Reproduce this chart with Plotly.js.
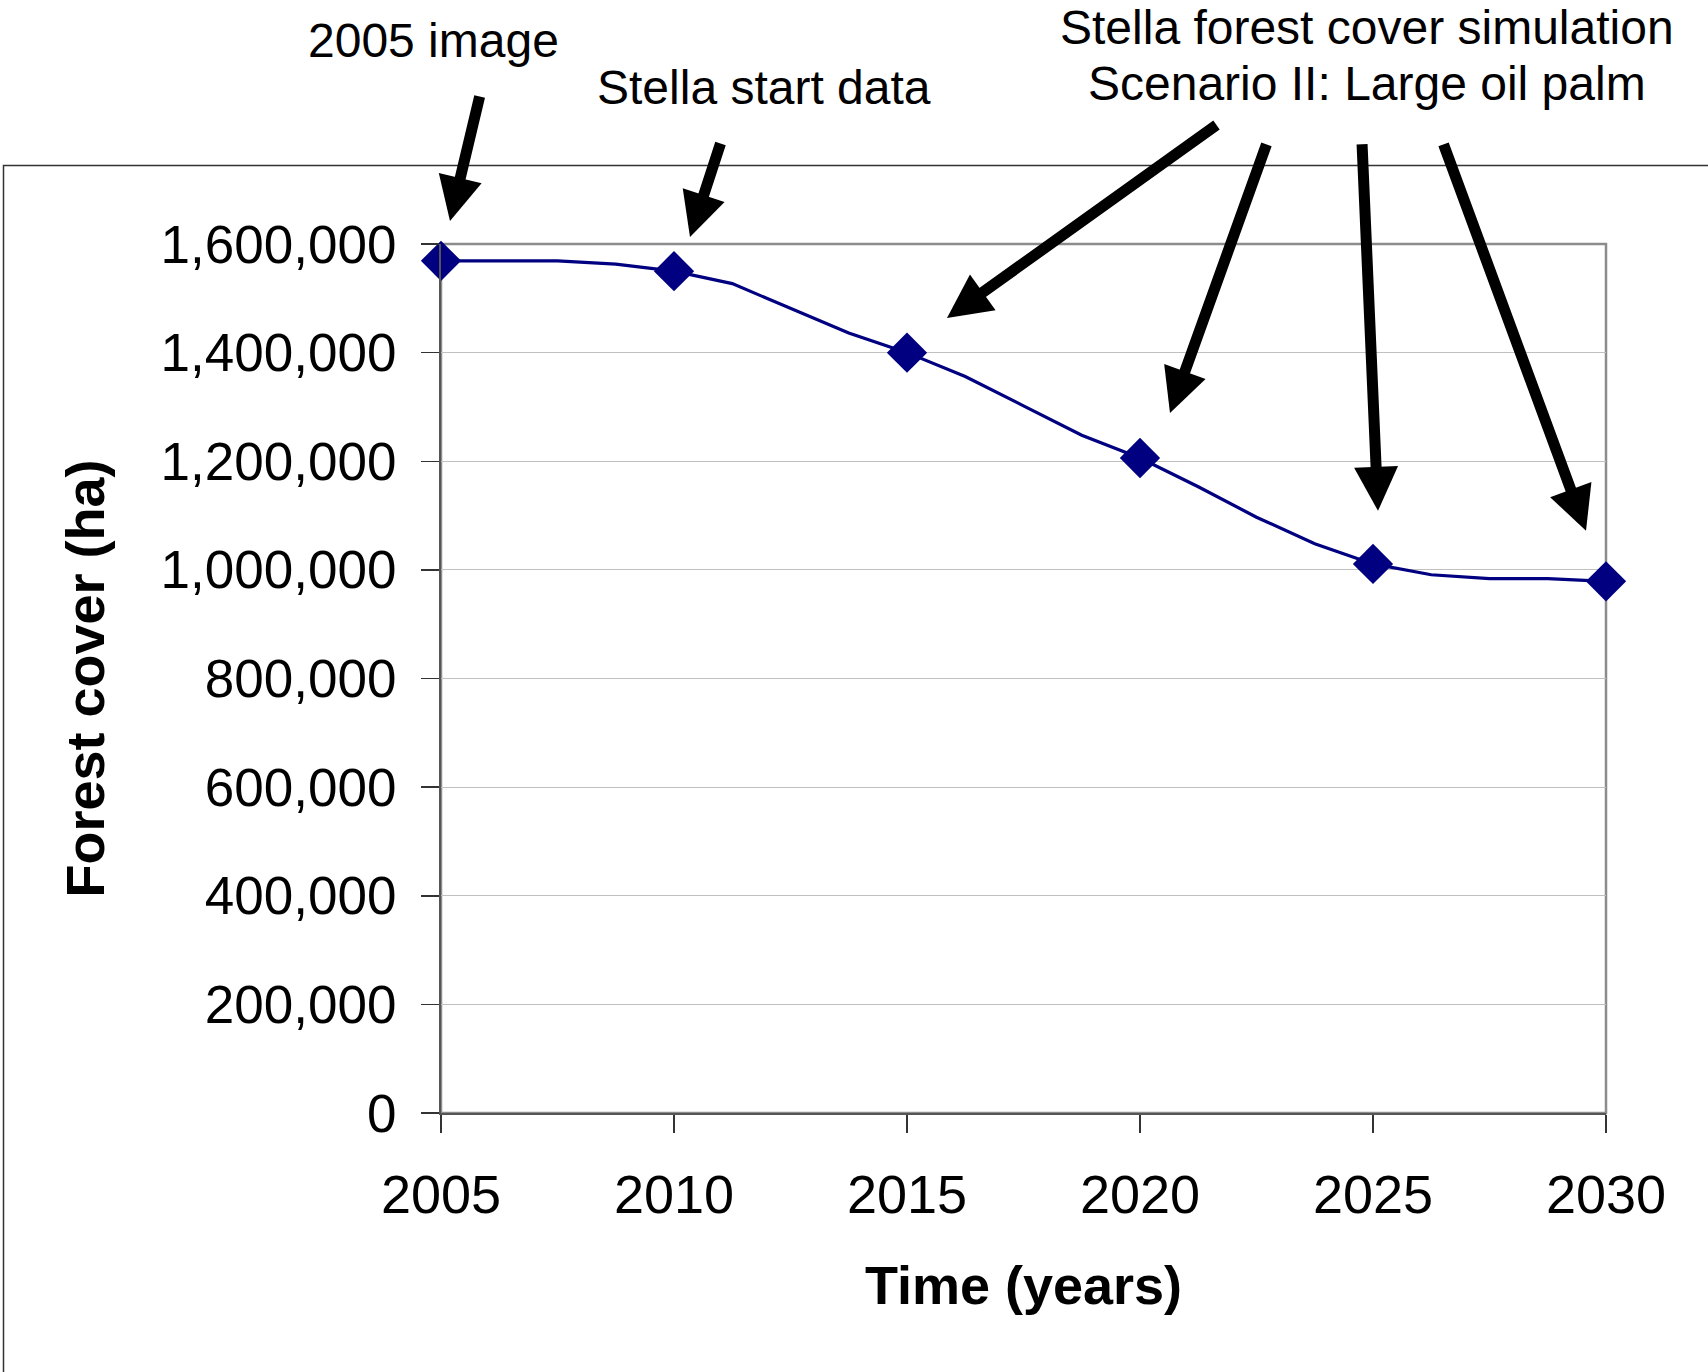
<!DOCTYPE html>
<html>
<head>
<meta charset="utf-8">
<script src="https://cdn.plot.ly/plotly-3.0.1.min.js"></script>
<style>
  html, body { margin: 0; padding: 0; background: #ffffff; }
  #chart { width: 1708px; height: 1372px; }
</style>
</head>
<body>
<div id="chart"></div>
<script>
// ---- Data ----
const simYears = [2005, 2006.25, 2007.5, 2008.75, 2010, 2011.25, 2012.5, 2013.75, 2015, 2016.25, 2017.5,
                  2018.75, 2020, 2021.25, 2022.5, 2023.75, 2025, 2026.25, 2027.5, 2028.75, 2030];
const simCover = [1569000, 1569000, 1569000, 1563000, 1550000, 1527000, 1482000, 1436000, 1400000, 1356000, 1302000,
                  1248000, 1206000, 1153000, 1097000, 1048000, 1011000, 991000, 984000, 984000, 979000];
const markerYears = [2005, 2010, 2015, 2020, 2025, 2030];
const markerCover = [1569000, 1550000, 1400000, 1206000, 1011000, 979000];
const xTicks = [2005, 2010, 2015, 2020, 2025, 2030];
const yTicks = [0, 200000, 400000, 600000, 800000, 1000000, 1200000, 1400000, 1600000];
const xTitle = 'Time (years)';
const yTitle = 'Forest cover (ha)';
const labels = ['2005 image', 'Stella start data', 'Stella forest cover simulation', 'Scenario II: Large oil palm'];

// ---- Layout geometry ----
const W = 1708, H = 1372;
const L = 441, R = 1606, T = 244, B = 1113.5;
const px2x = p => (p - L) / (R - L);
const py2y = p => (B - p) / (B - T);
const FONT = 'Arial, "Liberation Sans", sans-serif';

const navy = '#000080';

const traces = [
  { x: simYears, y: simCover, type: 'scatter', mode: 'lines',
    line: { color: navy, width: 3.2 }, hoverinfo: 'skip', showlegend: false },
  { x: markerYears, y: markerCover, type: 'scatter', mode: 'markers', cliponaxis: false,
    marker: { symbol: 'diamond', size: 31, color: navy }, showlegend: false }
];

function textAnn(text, cx, cy) {
  return { text: text, xref: 'paper', yref: 'paper', x: px2x(cx), y: py2y(cy),
           xanchor: 'center', yanchor: 'middle', showarrow: false,
           font: { family: FONT, size: 48, color: '#000' } };
}
function arrowAnn(tipX, tipY, tailX, tailY) {
  return { text: '', xref: 'paper', yref: 'paper', x: px2x(tipX), y: py2y(tipY),
           axref: 'pixel', ayref: 'pixel', ax: tailX - tipX, ay: tailY - tipY,
           showarrow: true, arrowhead: 2, arrowsize: 0.8, arrowwidth: 11,
           arrowcolor: '#000', standoff: 0 };
}

const layout = {
  width: W, height: H, autosize: false,
  paper_bgcolor: '#fff', plot_bgcolor: '#fff',
  margin: { l: L, r: W - R, t: T, b: H - B, pad: 0 },
  font: { family: FONT, color: '#000' },
  showlegend: false,
  xaxis: {
    range: [2005, 2030], tickvals: xTicks, ticktext: xTicks.map(String),
    ticks: 'outside', ticklen: 18, tickwidth: 1.5, tickcolor: '#333',
    showline: true, linecolor: '#555', linewidth: 2,
    showgrid: false, zeroline: false,
    tickfont: { family: FONT, size: 54, color: '#000' },
    ticklabelstandoff: 15,
    title: { text: xTitle, font: { family: FONT, size: 54, color: '#000', weight: 'bold' }, standoff: 43 }
  },
  yaxis: {
    range: [0, 1600000], tickvals: yTicks, tickformat: ',d',
    ticks: 'outside', ticklen: 18, tickwidth: 1.5, tickcolor: '#333',
    showline: true, linecolor: '#555', linewidth: 2,
    showgrid: true, gridcolor: '#c0c0c0', gridwidth: 1, zeroline: false,
    tickfont: { family: FONT, size: 53, color: '#000' },
    ticklabelstandoff: 14,
    title: { text: yTitle, font: { family: FONT, size: 54, color: '#000', weight: 'bold' }, standoff: 39 }
  },
  shapes: [
    // grey plot-area frame (top/right)
    { type: 'rect', xref: 'paper', yref: 'paper', x0: 0, x1: 1, y0: 0, y1: 1,
      line: { color: '#8c8c8c', width: 2.5 }, layer: 'below' },
    // outer chart border, cut off at right and bottom
    { type: 'rect', xref: 'paper', yref: 'paper', x0: px2x(3.5), x1: px2x(1760), y0: py2y(165.5), y1: py2y(1420),
      line: { color: '#333', width: 1.5 } }
  ],
  annotations: [
    textAnn(labels[0], 433, 40),
    textAnn(labels[1], 764, 87),
    textAnn(labels[2], 1367, 27),
    textAnn(labels[3], 1367, 83),
    arrowAnn(450, 221, 480, 95),
    arrowAnn(690, 237, 721, 142),
    arrowAnn(947, 318, 1218, 124),
    arrowAnn(1170, 413, 1267, 143),
    arrowAnn(1378, 511, 1362, 143),
    arrowAnn(1586, 531, 1443, 143)
  ]
};

Plotly.newPlot('chart', traces, layout, { staticPlot: true, displayModeBar: false });
</script>
</body>
</html>
